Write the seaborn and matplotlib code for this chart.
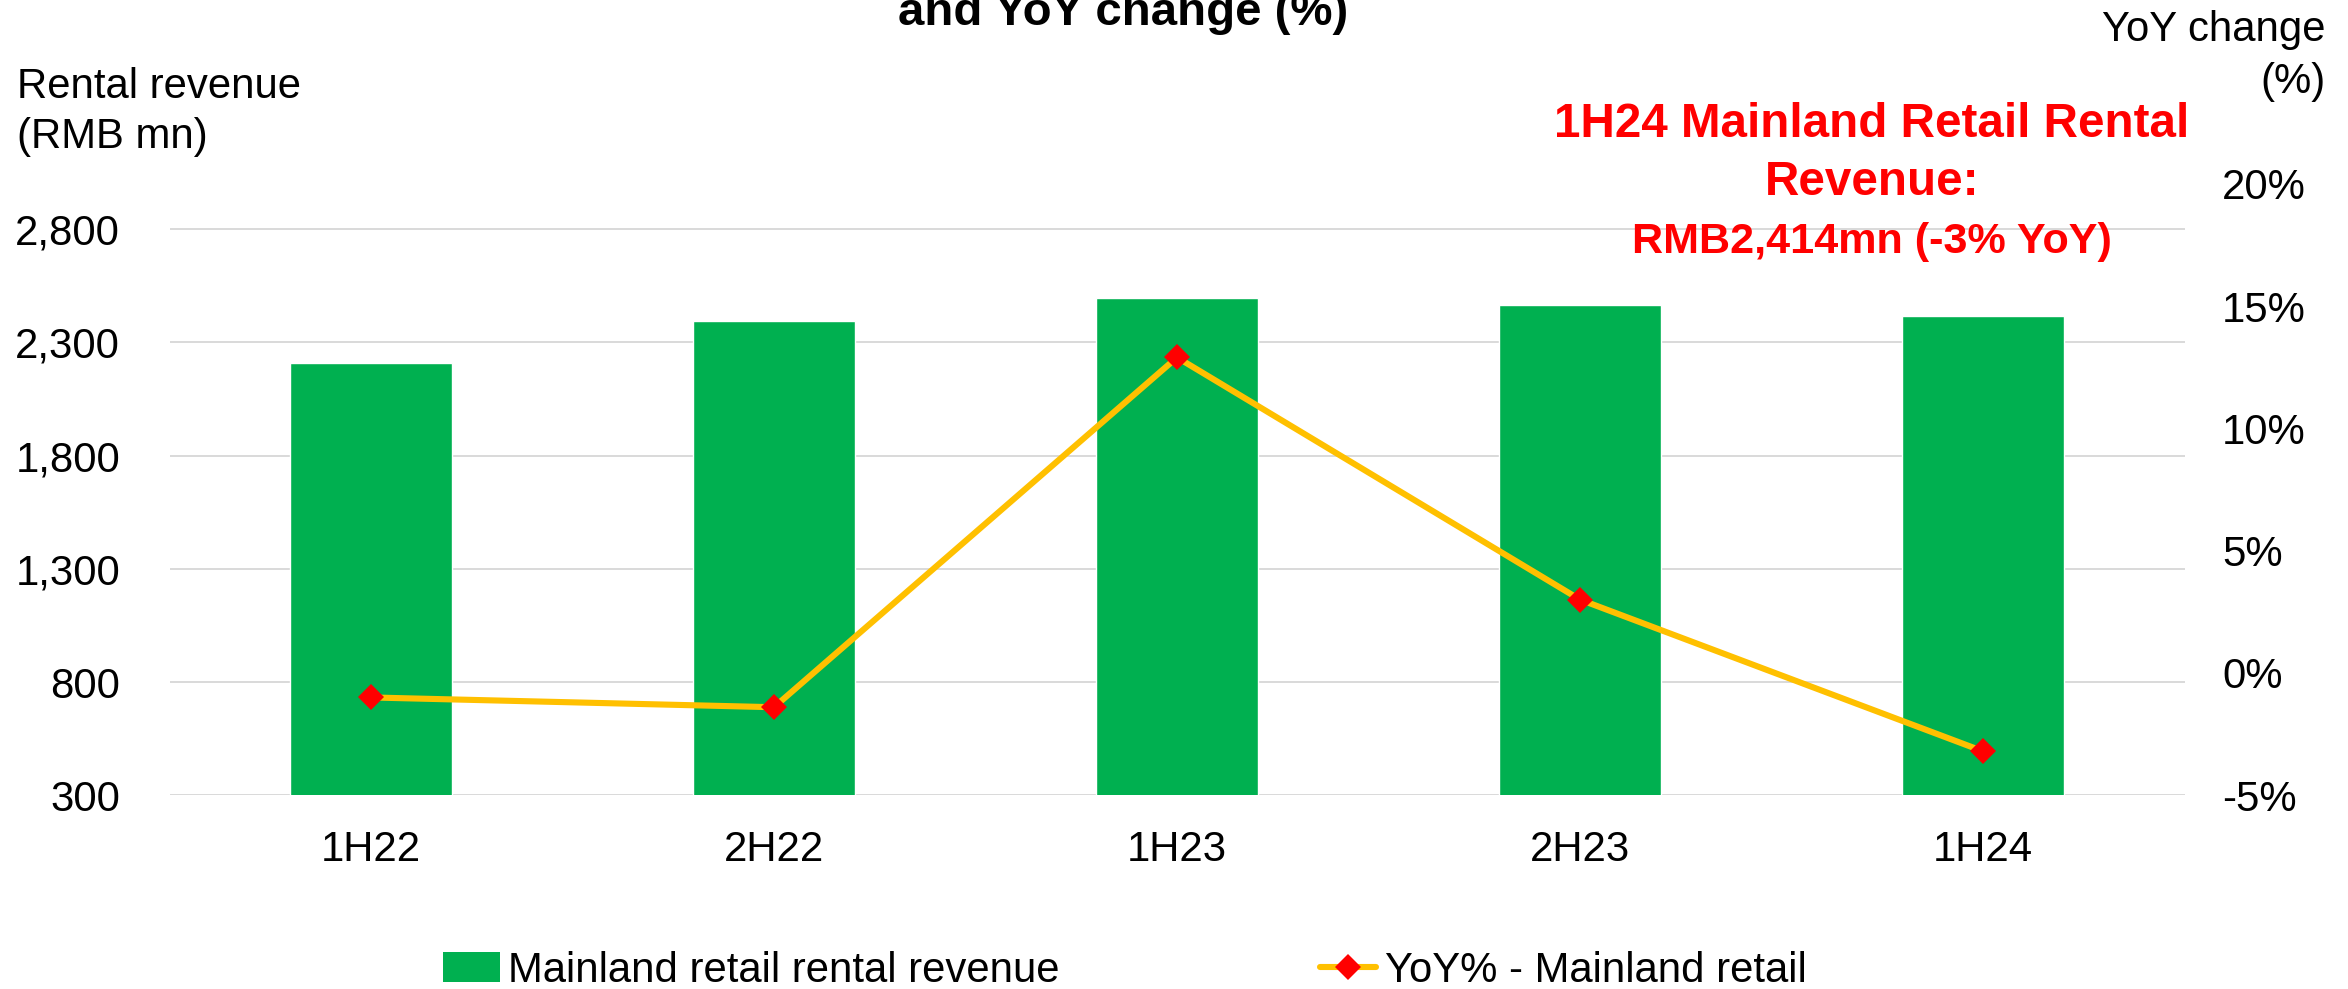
import matplotlib
matplotlib.use("Agg")
import matplotlib.pyplot as plt
import seaborn as sns
import pandas as pd
from matplotlib.patches import Patch
from matplotlib.lines import Line2D

# ---- data ----
periods = ["1H22", "2H22", "1H23", "2H23", "1H24"]
rental_revenue = [2210, 2395, 2494, 2466, 2414]
yoy_change = [-1.0, -1.4, 12.9, 3.0, -3.2]
left_ticks = [300, 800, 1300, 1800, 2300, 2800]
right_ticks = [-5, 0, 5, 10, 15, 20]
bar_label = "Mainland retail rental revenue"
line_label = "YoY% - Mainland retail"
title_text = "and YoY change (%)"
left_axis_title = ["Rental revenue", "(RMB mn)"]
right_axis_title = ["YoY change", "(%)"]
callout = ["1H24 Mainland Retail Rental", "Revenue:", "RMB2,414mn (-3% YoY)"]

GREEN = "#00B050"
YELLOW = "#FFC000"
RED = "#FF0000"
GRID = "#D9D9D9"

sns.set_theme(style="white")
plt.rcParams["font.family"] = ["Liberation Sans", "DejaVu Sans"]
plt.rcParams["axes.unicode_minus"] = False
plt.rcParams["text.color"] = "black"

W, H = 2348, 989
FS = 30.2
LW = 4.4
MS = 13.0

fig = plt.figure(figsize=(W / 100, H / 100), dpi=100)
ax = fig.add_axes([169.5 / W, 1 - 795.3 / H, 2015 / W, 611.6 / H])

df = pd.DataFrame({"period": periods, "revenue": rental_revenue, "yoy": yoy_change})

sns.barplot(data=df, x="period", y="revenue", color=GREEN, saturation=1,
            width=0.4, ax=ax, zorder=2)
ax.set_ylim(300, 3000)
ax.set_yticks(left_ticks)
ax.set_yticklabels([f"{v:,}" for v in left_ticks])
ax.yaxis.grid(True, color=GRID, linewidth=1.4)
ax.xaxis.grid(False)
ax.set_axisbelow(True)
for s in ax.spines.values():
    s.set_visible(False)
ax.tick_params(axis="both", length=0, labelsize=FS, colors="black")
ax.tick_params(axis="y", pad=35.6)
ax.tick_params(axis="x", pad=25)
ax.set_xlabel("")
ax.set_ylabel("")

ax2 = ax.twinx()
sns.pointplot(data=df, x="period", y="yoy", color=YELLOW, errorbar=None,
              markers="D", ax=ax2, linewidth=LW, markersize=MS)
for ln in ax2.lines:
    ln.set_color(YELLOW)
    ln.set_linewidth(LW)
    ln.set_marker("D")
    ln.set_markersize(MS)
    ln.set_markerfacecolor(RED)
    ln.set_markeredgecolor(RED)
    ln.set_markeredgewidth(0)
for c in ax2.collections:
    c.set_visible(False)
ax2.set_ylim(-5, 20)
ax2.set_yticks(right_ticks)
ax2.set_yticklabels([f"{v}%" for v in right_ticks])
ax2.grid(False)
for s in ax2.spines.values():
    s.set_visible(False)
ax2.tick_params(axis="y", length=0, labelsize=FS, pad=27, colors="black")
ax2.set_ylabel("")
ax2.set_xlabel("")
ax.set_xlim(-0.5, 4.5)
ax2.set_xlim(-0.5, 4.5)


def ftext(x, y, s, **kw):
    fig.text(x / W, 1 - y / H, s, color=kw.pop("color", "black"), **kw)


# title (second line visible)
ftext(1123, 25, title_text, ha="center", va="baseline", fontsize=34.1,
      fontweight="bold")

# axis titles
ftext(17, 98, left_axis_title[0], ha="left", va="baseline", fontsize=FS)
ftext(17, 148, left_axis_title[1], ha="left", va="baseline", fontsize=FS)
ftext(2326, 40.7, right_axis_title[0], ha="right", va="baseline", fontsize=FS)
ftext(2326, 93, right_axis_title[1], ha="right", va="baseline", fontsize=FS)

# callout
ftext(1872, 137.3, callout[0], ha="center", va="baseline", fontsize=34.3,
      fontweight="bold", color=RED)
ftext(1872, 195, callout[1], ha="center", va="baseline", fontsize=34.3,
      fontweight="bold", color=RED)
ftext(1872, 253, callout[2], ha="center", va="baseline", fontsize=31.1,
      fontweight="bold", color=RED)

# legend
handles = [
    Patch(facecolor=GREEN, edgecolor="none"),
    Line2D([], [], color=YELLOW, linewidth=LW, marker="D", markersize=MS,
           markerfacecolor=RED, markeredgecolor=RED, markeredgewidth=0),
]
leg = fig.legend(handles, [bar_label, line_label], ncol=2, loc="center left",
                 bbox_to_anchor=(443 / W, 1 - 970.5 / H), frameon=False,
                 fontsize=FS, handlelength=1.35, handletextpad=0.2,
                 columnspacing=6.2, borderpad=0, borderaxespad=0)
for t in leg.get_texts():
    t.set_color("black")

fig.savefig("out.png", dpi=100)
